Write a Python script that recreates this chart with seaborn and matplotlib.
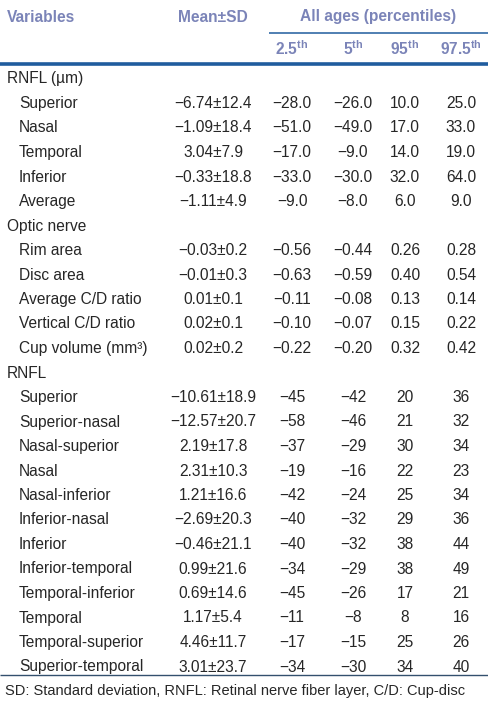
import matplotlib
matplotlib.use("Agg")
import matplotlib.pyplot as plt
import seaborn as sns
import pandas as pd


# TABLE CONTENT
header_cols = ["Variables", "Mean±SD", "All ages (percentiles)"]
pct_labels = ["2.5", "5", "95", "97.5"]

row_labels = [
    "RNFL (µm)", "Superior", "Nasal", "Temporal", "Inferior", "Average",
    "Optic nerve", "Rim area", "Disc area", "Average C/D ratio",
    "Vertical C/D ratio", "Cup volume (mm³)",
    "RNFL", "Superior", "Superior-nasal", "Nasal-superior", "Nasal",
    "Nasal-inferior", "Inferior-nasal", "Inferior", "Inferior-temporal",
    "Temporal-inferior", "Temporal", "Temporal-superior", "Superior-temporal",
]
is_group = [True, False, False, False, False, False,
            True, False, False, False, False, False,
            True] + [False] * 12

mean_sd = [
    "", "−6.74±12.4", "−1.09±18.4", "3.04±7.9", "−0.33±18.8", "−1.11±4.9",
    "", "−0.03±0.2", "−0.01±0.3", "0.01±0.1", "0.02±0.1", "0.02±0.2",
    "", "−10.61±18.9", "−12.57±20.7", "2.19±17.8", "2.31±10.3", "1.21±16.6",
    "−2.69±20.3", "−0.46±21.1", "0.99±21.6", "0.69±14.6", "1.17±5.4",
    "4.46±11.7", "3.01±23.7",
]
p2_5 = ["", "−28.0", "−51.0", "−17.0", "−33.0", "−9.0",
        "", "−0.56", "−0.63", "−0.11", "−0.10", "−0.22",
        "", "−45", "−58", "−37", "−19", "−42", "−40", "−40", "−34", "−45", "−11", "−17", "−34"]
p5 = ["", "−26.0", "−49.0", "−9.0", "−30.0", "−8.0",
      "", "−0.44", "−0.59", "−0.08", "−0.07", "−0.20",
      "", "−42", "−46", "−29", "−16", "−24", "−32", "−32", "−29", "−26", "−8", "−15", "−30"]
p95 = ["", "10.0", "17.0", "14.0", "32.0", "6.0",
       "", "0.26", "0.40", "0.13", "0.15", "0.32",
       "", "20", "21", "30", "22", "25", "29", "38", "38", "17", "8", "25", "34"]
p97_5 = ["", "25.0", "33.0", "19.0", "64.0", "9.0",
         "", "0.28", "0.54", "0.14", "0.22", "0.42",
         "", "36", "32", "34", "23", "34", "36", "44", "49", "21", "16", "26", "40"]

footnote = "SD: Standard deviation, RNFL: Retinal nerve fiber layer, C/D: Cup-disc"

df = pd.DataFrame({
    "label": row_labels,
    "group": is_group,
    "mean_sd": mean_sd,
    "p2_5": p2_5,
    "p5": p5,
    "p95": p95,
    "p97_5": p97_5,
})


# STYLE
sns.set_theme(style="white")
plt.rcParams["font.family"] = ["Liberation Sans", "DejaVu Sans"]

HEAD = "#7b84b8"
LINE = "#1f5c9e"
BODY = "#262626"
FS = 11.2

fig = plt.figure(figsize=(4.88, 7.02), dpi=100)
ax = fig.add_axes([0, 0, 1, 1])
ax.set_xlim(0, 488)
ax.set_ylim(702, 0)
ax.axis("off")

# HEADER
ax.text(7, 17, header_cols[0], color=HEAD, fontsize=FS, fontweight="bold", va="center")
ax.text(213, 17, header_cols[1], color=HEAD, fontsize=FS, fontweight="bold",
        va="center", ha="center")
ax.text(378, 17, header_cols[2], color=HEAD, fontsize=FS, fontweight="bold",
        va="center", ha="center")
ax.plot([269, 488], [32.5, 32.5], color=LINE, lw=1.1, solid_capstyle="butt")

pct_x = [292, 353, 405, 461]
for x, lab in zip(pct_x, pct_labels):
    ax.text(x, 49, lab + r"$^{\mathregular{th}}$", color=HEAD, fontsize=FS,
            fontweight="bold", va="center", ha="center")

ax.plot([0, 488], [64, 64], color=LINE, lw=2.6, solid_capstyle="butt")

# BODY
y0, step = 79, 24.5
col_x = [213] + pct_x
for i, row in df.iterrows():
    y = y0 + i * step
    if row["group"]:
        ax.text(7, y, row["label"], color=BODY, fontsize=FS, va="center")
        continue
    ax.text(19, y, row["label"], color=BODY, fontsize=FS, va="center")
    vals = [row["mean_sd"], row["p2_5"], row["p5"], row["p95"], row["p97_5"]]
    for x, v in zip(col_x, vals):
        ax.text(x, y, v, color=BODY, fontsize=FS, va="center", ha="center")

ax.plot([0, 488], [675, 675], color="#33506e", lw=1.0, solid_capstyle="butt")
ax.text(5, 691, footnote, color=BODY, fontsize=10.5, va="center")

fig.savefig("out.png", dpi=100, facecolor="white")
